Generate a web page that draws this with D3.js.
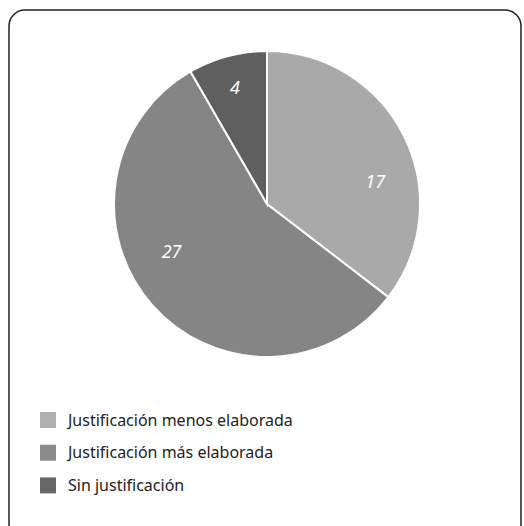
<!DOCTYPE html>
<html>
<head>
<meta charset="utf-8">
<script src="https://cdn.jsdelivr.net/npm/d3@7"></script>
<style>
  body { margin: 0; background: #fff; }
  svg { display: block; font-family: "Noto Sans", sans-serif; }
</style>
</head>
<body>
<div id="chart"></div>
<script>
// Data
const categories = ["Justificación menos elaborada", "Justificación más elaborada", "Sin justificación"];
const values = [17, 27, 4];
const sliceColors = ["#a9a9a9", "#858585", "#5f5f5f"];
const legendColors = ["#b0b0b0", "#8b8b8b", "#666666"];

const width = 524, height = 526;
const cx = 267, cy = 204, radius = 153;

// small label nudges from the centroid (px), like the original's hand placement
const labelNudge = [[4, 28], [-8, -30], [-2, -5]];

const svg = d3.select("#chart")
    .append("svg")
    .attr("width", width)
    .attr("height", height);

// Frame with rounded corners
svg.append("rect")
    .attr("x", 9)
    .attr("y", 10)
    .attr("width", 512)
    .attr("height", 530)
    .attr("rx", 16)
    .attr("fill", "#fff")
    .attr("stroke", "#222")
    .attr("stroke-width", 1.5);

const data = categories.map((c, i) => ({ name: c, value: values[i], color: sliceColors[i] }));

const pie = d3.pie()
    .value(d => d.value)
    .sort(null);

const arc = d3.arc()
    .innerRadius(0)
    .outerRadius(radius);

const labelArc = d3.arc()
    .innerRadius(radius * 0.76)
    .outerRadius(radius * 0.76);

const g = svg.append("g")
    .attr("transform", "translate(" + cx + "," + cy + ")");

const arcs = pie(data);

g.selectAll("path")
    .data(arcs)
    .enter()
    .append("path")
    .attr("d", arc)
    .attr("fill", d => d.data.color)
    .attr("stroke", "#fff")
    .attr("stroke-width", 2);

g.selectAll("text")
    .data(arcs)
    .enter()
    .append("text")
    .attr("transform", (d, i) => {
        const c = labelArc.centroid(d);
        return "translate(" + (c[0] + labelNudge[i][0]) + "," + (c[1] + labelNudge[i][1]) + ")";
    })
    .attr("text-anchor", "middle")
    .attr("dominant-baseline", "central")
    .style("font-style", "italic")
    .style("font-size", "18px")
    .style("fill", "#fff")
    .text(d => d.data.value);

// Legend
const legend = svg.selectAll(".legend")
    .data(categories)
    .enter()
    .append("g")
    .attr("class", "legend")
    .attr("transform", (d, i) => "translate(40," + (412 + i * 32.7) + ")");

legend.append("rect")
    .attr("width", 16)
    .attr("height", 16)
    .attr("fill", (d, i) => legendColors[i]);

legend.append("text")
    .attr("x", 28)
    .attr("y", 8)
    .attr("dy", "0.35em")
    .style("font-size", "16px")
    .style("fill", "#222")
    .text(d => d);
</script>
</body>
</html>
